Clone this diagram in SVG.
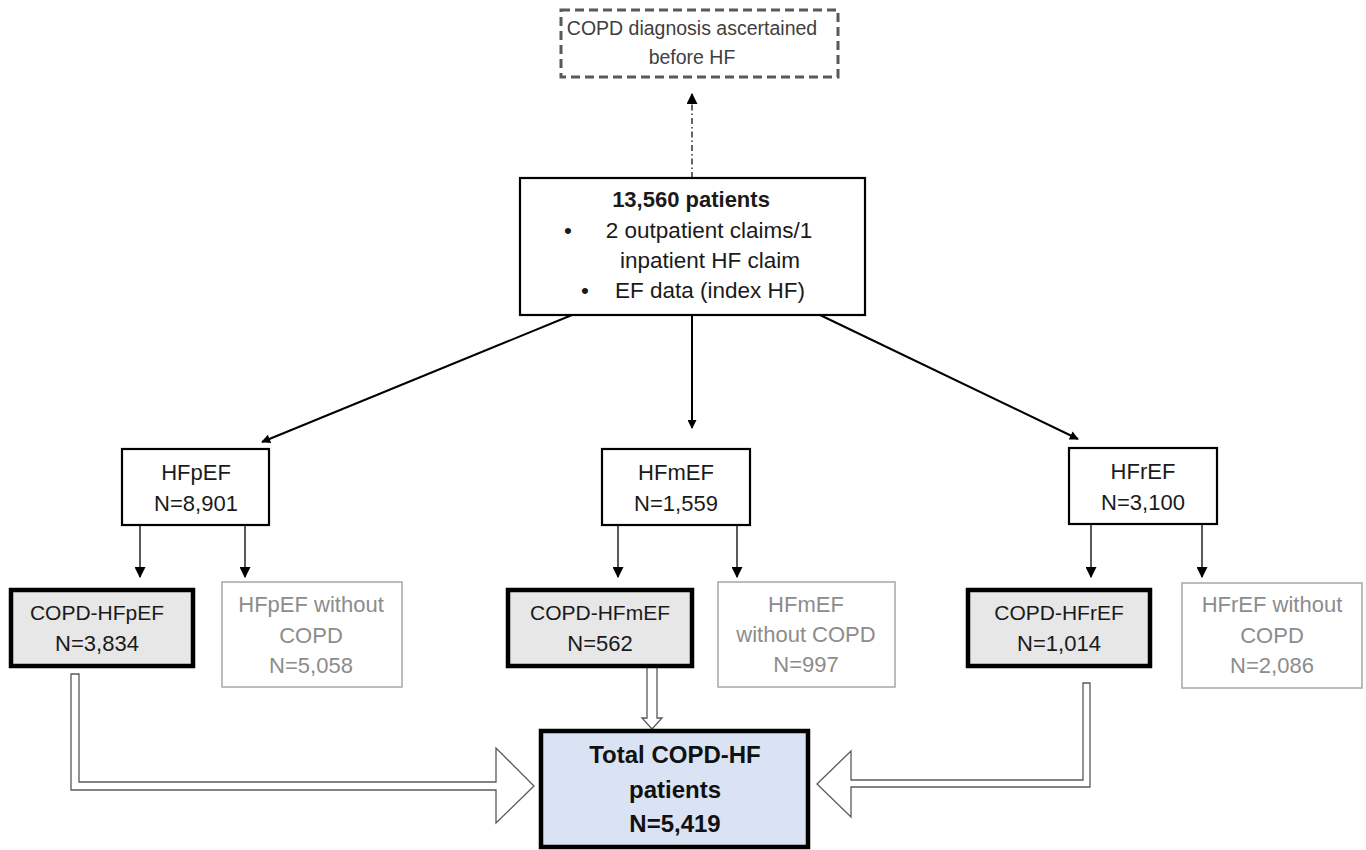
<svg xmlns="http://www.w3.org/2000/svg" width="1366" height="850" viewBox="0 0 1366 850">
<style>
text{font-family:"Liberation Sans",Arial,sans-serif;text-anchor:middle}
.t{font-size:22px;fill:#1a1a1a}
.c{font-size:21px;fill:#1a1a1a}
.m{font-size:22.5px;fill:#1a1a1a}
.g{font-size:22px;fill:#8c8c8c}
.b{font-weight:bold}
.box{fill:#fff;stroke:#000;stroke-width:2.2}
.copd{fill:#e7e7e7;stroke:#000;stroke-width:4.5}
.gray{fill:#fff;stroke:#a6a6a6;stroke-width:1.5}
.total{fill:#dae3f3;stroke:#000;stroke-width:4.5}
.ln{stroke:#000;stroke-width:2;fill:none}
.thin{stroke:#000;stroke-width:1.3;fill:none}
.hollow{fill:#fff;stroke:#595959;stroke-width:1.3}
</style>
<defs>
<marker id="ah" viewBox="0 0 10 10" refX="9" refY="5" markerWidth="10" markerHeight="9" markerUnits="userSpaceOnUse" orient="auto"><path d="M0,0 L10,5 L0,10 z" fill="#000"/></marker>
<marker id="ahs" viewBox="0 0 10 10" refX="9" refY="5" markerWidth="11" markerHeight="11" markerUnits="userSpaceOnUse" orient="auto"><path d="M0,0 L10,5 L0,10 z" fill="#000"/></marker>
</defs>

<g id="connectors">
<line x1="692" y1="178" x2="692" y2="94" stroke="#000" stroke-width="1.2" stroke-dasharray="6,3,1.5,3" marker-end="url(#ahs)"/>
<line class="ln" x1="572" y1="315" x2="262" y2="442" marker-end="url(#ah)"/>
<line class="ln" x1="692" y1="315" x2="692" y2="428" marker-end="url(#ah)"/>
<line class="ln" x1="820" y1="315" x2="1078" y2="439" marker-end="url(#ah)"/>
<line class="thin" x1="140" y1="525" x2="140" y2="577" marker-end="url(#ahs)"/>
<line class="thin" x1="245" y1="525" x2="245" y2="577" marker-end="url(#ahs)"/>
<line class="thin" x1="618" y1="525" x2="618" y2="577" marker-end="url(#ahs)"/>
<line class="thin" x1="737" y1="525" x2="737" y2="577" marker-end="url(#ahs)"/>
<line class="thin" x1="1091" y1="524" x2="1091" y2="577" marker-end="url(#ahs)"/>
<line class="thin" x1="1202" y1="524" x2="1202" y2="577" marker-end="url(#ahs)"/>
<polygon class="hollow" points="71,674 79,674 79,782 496,782 496,748 534,786 496,823 496,790 71,790"/>
<polygon class="hollow" points="1083,683 1090,683 1090,787 851,787 851,817 817,784 851,751 851,780 1083,780"/>
<polygon class="hollow" points="647,667 657,667 657,718 662,718 652,729 642,718 647,718"/>
</g>

<g id="prior">
<rect x="561" y="10" width="277" height="67" fill="#fff" stroke="#595959" stroke-width="3" stroke-dasharray="9,5"/>
<text x="692" y="35" style="font-size:19.5px;fill:#404040">COPD diagnosis ascertained</text>
<text x="692" y="64" style="font-size:19.5px;fill:#404040">before HF</text>
</g>

<g id="main">
<rect class="box" x="520" y="178" width="345" height="137"/>
<text class="m b" x="691" y="207" style="font-size:22px">13,560 patients</text>
<text class="m" x="568" y="238">•</text>
<text class="m" x="709" y="238">2 outpatient claims/1</text>
<text class="m" x="710" y="268">inpatient HF claim</text>
<text class="m" x="585" y="298">•</text>
<text class="m" x="710" y="298">EF data (index HF)</text>
</g>

<g id="hfpef">
<rect class="box" x="122" y="449" width="147" height="76"/>
<text class="t" x="196" y="480">HFpEF</text>
<text class="t" x="196" y="511">N=8,901</text>
</g>
<g id="hfmef">
<rect class="box" x="602" y="449" width="148" height="76"/>
<text class="t" x="676" y="480">HFmEF</text>
<text class="t" x="676" y="511">N=1,559</text>
</g>
<g id="hfref">
<rect class="box" x="1069" y="448" width="148" height="76"/>
<text class="t" x="1143" y="479">HFrEF</text>
<text class="t" x="1143" y="510">N=3,100</text>
</g>

<g id="copd-hfpef">
<rect class="copd" x="11" y="590" width="182" height="76"/>
<text class="c" x="97" y="620">COPD-HFpEF</text>
<text class="t" x="97" y="651">N=3,834</text>
</g>
<g id="hfpef-no-copd">
<rect class="gray" x="222" y="582" width="180" height="105"/>
<text class="g" x="311" y="612">HFpEF without</text>
<text class="g" x="311" y="643">COPD</text>
<text class="g" x="311" y="673">N=5,058</text>
</g>
<g id="copd-hfmef">
<rect class="copd" x="508" y="590" width="184" height="76"/>
<text class="c" x="600" y="620">COPD-HFmEF</text>
<text class="t" x="600" y="651">N=562</text>
</g>
<g id="hfmef-no-copd">
<rect class="gray" x="718" y="582" width="177" height="105"/>
<text class="g" x="806" y="612">HFmEF</text>
<text class="g" x="806" y="642">without COPD</text>
<text class="g" x="806" y="672">N=997</text>
</g>
<g id="copd-hfref">
<rect class="copd" x="968" y="590" width="182" height="76"/>
<text class="c" x="1059" y="620">COPD-HFrEF</text>
<text class="t" x="1059" y="651">N=1,014</text>
</g>
<g id="hfref-no-copd">
<rect class="gray" x="1182" y="583" width="180" height="105"/>
<text class="g" x="1272" y="612">HFrEF without</text>
<text class="g" x="1272" y="643">COPD</text>
<text class="g" x="1272" y="673">N=2,086</text>
</g>

<g id="total">
<rect class="total" x="541" y="731" width="267" height="116"/>
<text class="b" x="675" y="763" style="font-size:24px;fill:#111">Total COPD-HF</text>
<text class="b" x="675" y="798" style="font-size:24px;fill:#111">patients</text>
<text class="b" x="675" y="832" style="font-size:24px;fill:#111">N=5,419</text>
</g>
</svg>
